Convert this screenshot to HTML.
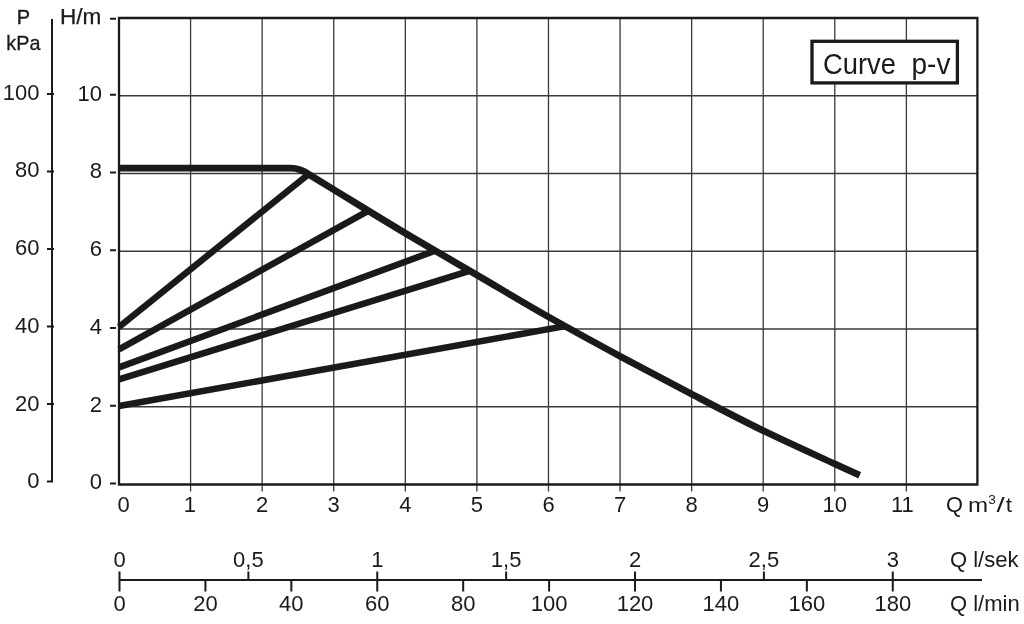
<!DOCTYPE html><html><head><meta charset="utf-8"><style>html,body{margin:0;padding:0;background:#fff;overflow:hidden}svg{display:block;position:absolute;left:0;top:0;will-change:transform}text{font-family:"Liberation Sans",sans-serif;fill:#1a1a1a}</style></head><body>
<svg width="1024" height="624" viewBox="0 0 1024 624">
<rect width="1024" height="624" fill="#fff"/>
<path d="M190.58 18V491.5 M262.16 18V491.5 M333.74 18V491.5 M405.32 18V491.5 M476.90 18V491.5 M548.48 18V491.5 M620.06 18V491.5 M691.64 18V491.5 M763.22 18V491.5 M834.80 18V491.5 M906.38 18V491.5 M119.00 406.75H977.4 M119.00 329.00H977.4 M119.00 251.25H977.4 M119.00 173.50H977.4 M119.00 95.75H977.4" stroke="#3a3a3a" stroke-width="1.3" fill="none"/>
<path d="M119.00 18H977.4V484.5H119.00Z" stroke="#1a1a1a" stroke-width="2.3" fill="none"/>
<path d="M119 327L308.5 174.2" stroke="#1a1a1a" stroke-width="6.5" fill="none"/>
<path d="M119 349.4L369.1 210.3" stroke="#1a1a1a" stroke-width="6.5" fill="none"/>
<path d="M119 367.4L436.3 250.3" stroke="#1a1a1a" stroke-width="6.5" fill="none"/>
<path d="M119 379.4L470.4 270.6" stroke="#1a1a1a" stroke-width="6.5" fill="none"/>
<path d="M119 406L565.3 326.1" stroke="#1a1a1a" stroke-width="6.5" fill="none"/>
<path d="M119 168.2H291C299 168.2 303.5 170.6 309 174.5C313.12 177.02 317.75 179.85 333.75 189.60C349.75 199.35 381.14 218.77 405.00 233.00C428.86 247.23 452.98 261.02 476.90 275.00C500.82 288.98 524.65 303.37 548.50 316.90C572.35 330.43 596.17 343.35 620.00 356.20C643.83 369.05 667.65 381.60 691.50 394.00C715.35 406.40 739.23 418.95 763.10 430.60C786.98 442.25 818.65 456.45 834.75 463.90C850.85 471.35 855.54 473.40 859.70 475.30" stroke="#1a1a1a" stroke-width="6.8" fill="none" stroke-linejoin="round"/>
<path d="M52 19V482M47 94H54M47 171.5H54M47 249H54M47 326.5H54M47 404H54M47 481.5H53" stroke="#1a1a1a" stroke-width="2" fill="none"/>
<path d="M110 483.40H116 M110 405.65H116 M110 327.90H116 M110 250.15H116 M110 172.40H116 M110 94.65H116 M110 18.70H116" stroke="#1a1a1a" stroke-width="2" fill="none"/>
<g font-size="22" text-anchor="end">
<text x="39.5" y="488.2">0</text>
<text x="39.5" y="410.5">20</text>
<text x="39.5" y="332.8">40</text>
<text x="39.5" y="255.0">60</text>
<text x="39.5" y="177.2">80</text>
<text x="39.5" y="99.5">100</text>
<text x="102" y="489.2">0</text>
<text x="102" y="411.5">2</text>
<text x="102" y="333.8">4</text>
<text x="102" y="256.0">6</text>
<text x="102" y="178.2">8</text>
<text x="102" y="100.5">10</text>
</g>
<g font-size="22" text-anchor="middle">
<text x="23.4" y="23.8" font-size="20" stroke="#1a1a1a" stroke-width="0.35">P</text><text x="23.4" y="50" font-size="19.8" stroke="#1a1a1a" stroke-width="0.3">kPa</text><text x="80.6" y="24.4" font-size="22.6" stroke="#1a1a1a" stroke-width="0.25">H/m</text>
<text x="123.5" y="512.3">0</text>
<text x="189.8" y="512.3">1</text>
<text x="262.2" y="512.3">2</text>
<text x="333.7" y="512.3">3</text>
<text x="405.3" y="512.3">4</text>
<text x="476.9" y="512.3">5</text>
<text x="548.5" y="512.3">6</text>
<text x="620.1" y="512.3">7</text>
<text x="691.6" y="512.3">8</text>
<text x="763.2" y="512.3">9</text>
<text x="834.8" y="512.3">10</text>
<text x="902.4" y="512.3">11</text>
</g>
<g font-size="20.5"><text x="946.1" y="511.8" font-size="21.8">Q</text><text x="968.1" y="511.5" textLength="20.1" lengthAdjust="spacingAndGlyphs">m</text><text x="988.3" y="503.6" font-size="12.5" textLength="7.6" lengthAdjust="spacingAndGlyphs">3</text><text x="996.6" y="511.5" textLength="8.2" lengthAdjust="spacingAndGlyphs">/</text><text x="1005.8" y="511.5" textLength="6.3" lengthAdjust="spacingAndGlyphs">t</text></g>
<path d="M119.5 580H982" stroke="#1a1a1a" stroke-width="2" fill="none"/>
<path d="M119.5 571.5V591.5 M205.42 580V591.5 M291.34 580V591.5 M377.26 580V591.5 M463.18 580V591.5 M549.10 580V591.5 M635.02 580V591.5 M720.94 580V591.5 M806.86 580V591.5 M892.78 580V591.5 M248.38 571.5V580 M377.26 571.5V580 M506.14 571.5V580 M635.02 571.5V580 M763.90 571.5V580 M892.78 571.5V580" stroke="#1a1a1a" stroke-width="2" fill="none"/>
<g font-size="22" text-anchor="middle">
<text x="119.5" y="610.5">0</text>
<text x="205.4" y="610.5">20</text>
<text x="291.3" y="610.5">40</text>
<text x="377.3" y="610.5">60</text>
<text x="463.2" y="610.5">80</text>
<text x="549.1" y="610.5">100</text>
<text x="635.0" y="610.5">120</text>
<text x="720.9" y="610.5">140</text>
<text x="806.9" y="610.5">160</text>
<text x="892.8" y="610.5">180</text>
<text x="119.5" y="567">0</text>
<text x="248.4" y="567">0,5</text>
<text x="377.3" y="567">1</text>
<text x="506.1" y="567">1,5</text>
<text x="635.0" y="567">2</text>
<text x="763.9" y="567">2,5</text>
<text x="892.8" y="567">3</text>
</g>
<text x="950" y="567" font-size="22">Q l/sek</text>
<text x="950" y="610.5" font-size="22">Q l/min</text>
<rect x="812" y="41.3" width="145.4" height="41.6" fill="#fff" stroke="#1a1a1a" stroke-width="3.3"/>
<text x="823" y="73.5" font-size="29" textLength="73" lengthAdjust="spacingAndGlyphs">Curve</text>
<text x="911.5" y="73.5" font-size="29" textLength="39" lengthAdjust="spacingAndGlyphs">p-v</text>
</svg></body></html>
